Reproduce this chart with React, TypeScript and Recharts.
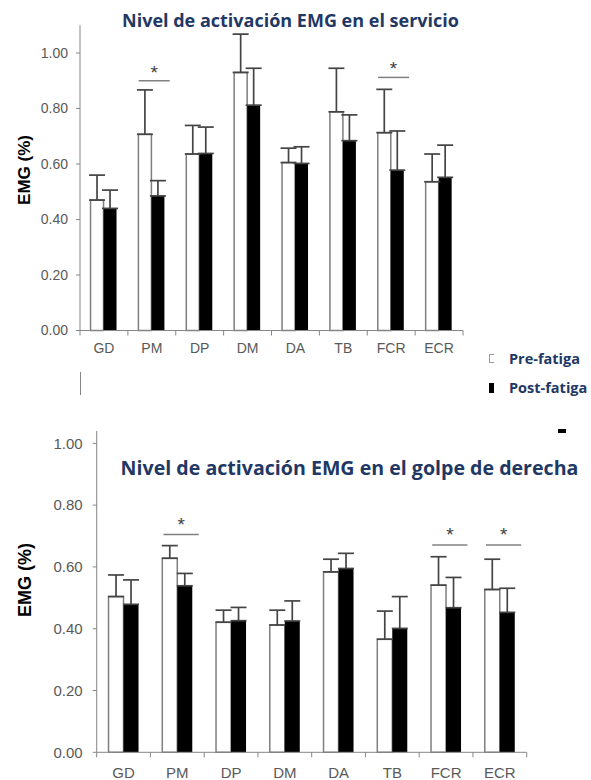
import { BarChart, Bar, XAxis, YAxis, ErrorBar, LabelList, Legend } from 'recharts'

// muscles on the x axis
const muscles = ['GD', 'PM', 'DP', 'DM', 'DA', 'TB', 'FCR', 'ECR']
const yTicks = [0, 0.2, 0.4, 0.6, 0.8, 1.0]

// serve (servicio)
const servePre = [0.47, 0.707, 0.636, 0.93, 0.605, 0.788, 0.713, 0.536]
const servePreSd = [0.09, 0.16, 0.103, 0.138, 0.052, 0.157, 0.156, 0.1]
const servePost = [0.44, 0.485, 0.638, 0.812, 0.602, 0.684, 0.578, 0.552]
const servePostSd = [0.066, 0.055, 0.095, 0.133, 0.06, 0.093, 0.141, 0.116]
// level of the "*" bar, null = not significant
const serveSig = [null, 0.9, null, null, null, null, 0.912, null]

// forehand (golpe de derecha)
const forePre = [0.504, 0.628, 0.421, 0.412, 0.584, 0.366, 0.541, 0.527]
const forePreSd = [0.07, 0.041, 0.039, 0.048, 0.041, 0.091, 0.092, 0.098]
const forePost = [0.479, 0.539, 0.426, 0.425, 0.595, 0.401, 0.468, 0.453]
const forePostSd = [0.079, 0.04, 0.043, 0.065, 0.049, 0.103, 0.098, 0.078]
const foreSig = [null, 0.705, null, null, null, null, 0.671, 0.671]

const SANS = '"Liberation Sans", Arial, sans-serif'
const TITLE_FONT = '"Open Sans", "Noto Sans", sans-serif'
const NAVY = '#1f3864'
const AXIS = '#868686'
const TICK_TEXT = '#595959'
const ERR = '#444'

function buildRows(pre: number[], preSd: number[], post: number[], postSd: number[], sig: (number | null)[]) {
  return muscles.map((m, i) => ({
    muscle: m,
    pre: pre[i],
    preErr: [0, preSd[i]],
    post: post[i],
    postErr: [0, postSd[i]],
    // sig level expressed relative to the pre bar, so it can be placed from the bar geometry
    sigRatio: sig[i] == null ? null : (sig[i] as number) / pre[i],
  }))
}

// category label in the middle, tick marks on the band edges (Excel style)
function CategoryTick(props: any) {
  const { x, y, payload, index, sz, half, drop, len } = props
  const axisY = y - drop
  return (
    <g>
      <line x1={x - half} y1={axisY} x2={x - half} y2={axisY + len} stroke={AXIS} />
      {index === muscles.length - 1 && (
        <line x1={x + half} y1={axisY} x2={x + half} y2={axisY + len} stroke={AXIS} />
      )}
      <text x={x} y={y} dy="0.71em" textAnchor="middle" fontSize={sz} fill={TICK_TEXT} fontFamily={SANS}>
        {payload.value}
      </text>
    </g>
  )
}

// significance bar + star, drawn over the pre bar of a pair
function sigMark(from: number, to: number, starOffset: number) {
  return (props: any) => {
    const { value } = props
    if (value == null) return null
    const vb = props.viewBox ?? props
    const base = vb.y + vb.height
    const y = base - value * vb.height
    const x1 = vb.x + from * vb.width
    const x2 = vb.x + to * vb.width
    return (
      <g>
        <line x1={x1} y1={y} x2={x2} y2={y} stroke="#808080" strokeWidth={1.5} />
        <text x={(x1 + x2) / 2} y={y - starOffset} textAnchor="middle" fontSize={19} fill="#404040" fontFamily={SANS}>
          *
        </text>
      </g>
    )
  }
}

function LegendContent({ payload }: any) {
  const items = [...(payload ?? [])].sort((a: any, b: any) => (a.dataKey === 'pre' ? -1 : b.dataKey === 'pre' ? 1 : 0))
  return (
    <div style={{ fontFamily: TITLE_FONT, fontWeight: 700, fontSize: 14.5, color: NAVY }}>
      {items.map((entry: any) => (
        <div key={entry.value} style={{ display: 'flex', alignItems: 'center', height: 29 }}>
          <span style={{ width: 20, display: 'flex', alignItems: 'center' }}>
            {entry.dataKey === 'pre' ? (
              <span style={{ width: 4, height: 7, border: '1px solid #9a9a9a', borderRight: 'none', background: '#fff' }} />
            ) : (
              <span style={{ width: 5, height: 10, background: '#000' }} />
            )}
          </span>
          {entry.value}
        </div>
      ))}
    </div>
  )
}

interface EmgChartProps {
  rows: ReturnType<typeof buildRows>
  yMax: number
  height: number
  margin: { top: number; right: number; bottom: number; left: number }
  yAxisWidth: number
  xAxisHeight: number
  fontSize: number
  yTickGap: number
  xTickGap: number
  label: { x: number; y: number; size: number }
  sigSpan: [number, number]
  starOffset: number
  legend?: boolean
}

function EmgChart({ rows, yMax, height, margin, yAxisWidth, xAxisHeight, fontSize, yTickGap, xTickGap, label, sigSpan, starOffset, legend }: EmgChartProps) {
  const width = 591
  const plotWidth = width - margin.left - margin.right - yAxisWidth
  const half = plotWidth / muscles.length / 2
  return (
    <BarChart width={width} height={height} data={rows} margin={margin} barCategoryGap="22%" barGap={0}>
      <XAxis
        dataKey="muscle"
        interval={0}
        height={xAxisHeight}
        stroke={AXIS}
        tickLine={false}
        tickSize={5}
        tickMargin={xTickGap}
        tick={<CategoryTick sz={fontSize} half={half} drop={5 + xTickGap} len={5} />}
      />
      <YAxis
        type="number"
        domain={[0, yMax]}
        ticks={yTicks}
        interval={0}
        width={yAxisWidth}
        stroke={AXIS}
        tickSize={4}
        tickMargin={yTickGap}
        tick={{ fontSize, fill: TICK_TEXT, fontFamily: SANS }}
        tickFormatter={(v: number) => v.toFixed(2)}
        label={{
          position: 'insideLeft',
          content: () => (
            <text
              x={label.x}
              y={label.y}
              transform={`rotate(-90, ${label.x}, ${label.y})`}
              textAnchor="middle"
              dominantBaseline="central"
              fontFamily={SANS}
              fontWeight={700}
              fontSize={label.size}
              fill="#000"
            >
              EMG (%)
            </text>
          ),
        }}
      />
      <Bar dataKey="pre" name="Pre-fatiga" fill="#fff" stroke="#7f7f7f" strokeWidth={1.5} isAnimationActive={false}>
        <ErrorBar dataKey="preErr" width={8} stroke={ERR} strokeWidth={1.7} direction="y" isAnimationActive={false} />
        <LabelList dataKey="sigRatio" content={sigMark(sigSpan[0], sigSpan[1], starOffset)} />
      </Bar>
      <Bar dataKey="post" name="Post-fatiga" fill="#000" isAnimationActive={false}>
        <ErrorBar dataKey="postErr" width={8} stroke={ERR} strokeWidth={1.7} direction="y" isAnimationActive={false} />
      </Bar>
      {legend && (
        <Legend
          layout="vertical"
          align="center"
          verticalAlign="middle"
          content={<LegendContent />}
          wrapperStyle={{ left: 489, top: 344, width: 102 }}
        />
      )}
    </BarChart>
  )
}

export default function App() {
  const serveRows = buildRows(servePre, servePreSd, servePost, servePostSd, serveSig)
  const foreRows = buildRows(forePre, forePreSd, forePost, forePostSd, foreSig)
  return (
    <div style={{ position: 'relative', width: 591, height: 780, overflow: 'hidden', background: '#fff' }}>
      <style>{'body{margin:0}'}</style>
      <div style={{ position: 'absolute', left: 0, top: 0 }}>
        <EmgChart
          rows={serveRows}
          yMax={1.1}
          height={400}
          margin={{ top: 25.25, right: 128, bottom: 39.5, left: 0 }}
          yAxisWidth={80}
          xAxisHeight={30}
          fontSize={14}
          yTickGap={8}
          xTickGap={7.6}
          label={{ x: 24, y: 170, size: 17 }}
          sigSpan={[0.02, 2.41]}
          starOffset={2}
          legend
        />
      </div>
      <div style={{ position: 'absolute', left: 0, top: 400 }}>
        <EmgChart
          rows={foreRows}
          yMax={1.04}
          height={380}
          margin={{ top: 31, right: 64.3, bottom: 0, left: 0 }}
          yAxisWidth={96.7}
          xAxisHeight={27.7}
          fontSize={15}
          yTickGap={10}
          xTickGap={10}
          label={{ x: 25, y: 180, size: 18 }}
          sigSpan={[0.08, 2.43]}
          starOffset={3.5}
        />
      </div>
      {/* leftovers of the cut figure */}
      <div style={{ position: 'absolute', left: 80, top: 372, width: 1, height: 23, background: AXIS }} />
      <div style={{ position: 'absolute', left: 558, top: 429, width: 8, height: 4, background: '#000' }} />
      <div
        style={{
          position: 'absolute', left: 7, top: 9, width: 567, textAlign: 'center',
          fontFamily: TITLE_FONT, fontWeight: 700, fontSize: 18, lineHeight: '22px', color: NAVY, whiteSpace: 'nowrap',
        }}
      >
        Nivel de activación EMG en el servicio
      </div>
      <div
        style={{
          position: 'absolute', left: 99.5, top: 457, width: 500, textAlign: 'center',
          fontFamily: TITLE_FONT, fontWeight: 700, fontSize: 19.6, lineHeight: '22px', color: NAVY, whiteSpace: 'nowrap',
        }}
      >
        Nivel de activación EMG en el golpe de derecha
      </div>
    </div>
  )
}
